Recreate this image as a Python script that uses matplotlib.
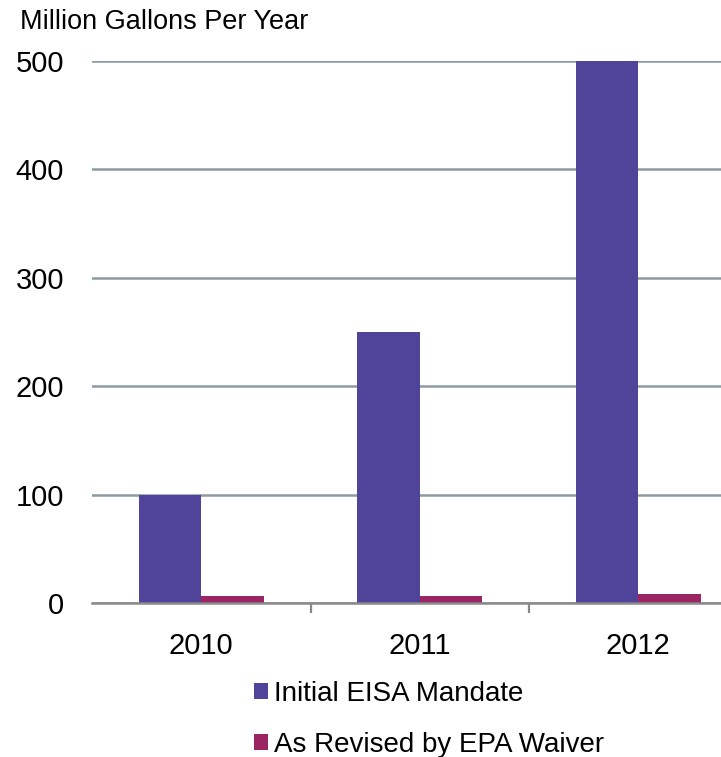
import numpy as np
import matplotlib.pyplot as plt

years = ["2010", "2011", "2012"]
initial = [100, 250, 500]
revised = [6.5, 6.6, 8.65]
series_names = ["Initial EISA Mandate", "As Revised by EPA Waiver"]

plt.rcParams['font.family'] = ['Liberation Sans', 'DejaVu Sans']

fig = plt.figure(figsize=(7.21, 7.57), dpi=100)
ax = fig.add_axes([92/721, 1-603/757, (747.5-92)/721, (603-61)/757])

x = np.arange(len(years))
w = 0.286
b1 = ax.bar(x - w/2, initial, w, color="#4f439a", label=series_names[0])
b2 = ax.bar(x + w/2, revised, w, color="#9b2462", label=series_names[1])

ax.set_xlim(-0.5, len(years) - 0.5)
ax.set_ylim(0, 500)
ax.set_yticks([0, 100, 200, 300, 400, 500])
ax.yaxis.grid(True, color="#8c9ba1", linewidth=1.8)
ax.set_axisbelow(True)
ax.tick_params(axis='y', length=0, pad=20, labelsize=21)

ax.set_xticks(x)
ax.set_xticklabels(years)
ax.set_xticks(x[:-1] + 0.5, minor=True)
ax.tick_params(axis='x', which='major', length=0, pad=21, labelsize=21)
ax.tick_params(axis='x', which='minor', length=7, width=1.6, color="#888888")

for s in ['top', 'right', 'left']:
    ax.spines[s].set_visible(False)
ax.spines['bottom'].set_color("#8a8a8a")
ax.spines['bottom'].set_linewidth(1.8)

fig.text(20/721, 1-22/757, "Million Gallons Per Year", fontsize=19.5, va='center', ha='left')

fig.legend(handles=[b1, b2], loc='upper left', bbox_to_anchor=(243/721, 1-670/757),
           frameon=False, fontsize=20, handlelength=0.5, handleheight=0.5,
           handletextpad=0.2, labelspacing=0.9, borderaxespad=0)

fig.savefig("out.png", dpi=100)
